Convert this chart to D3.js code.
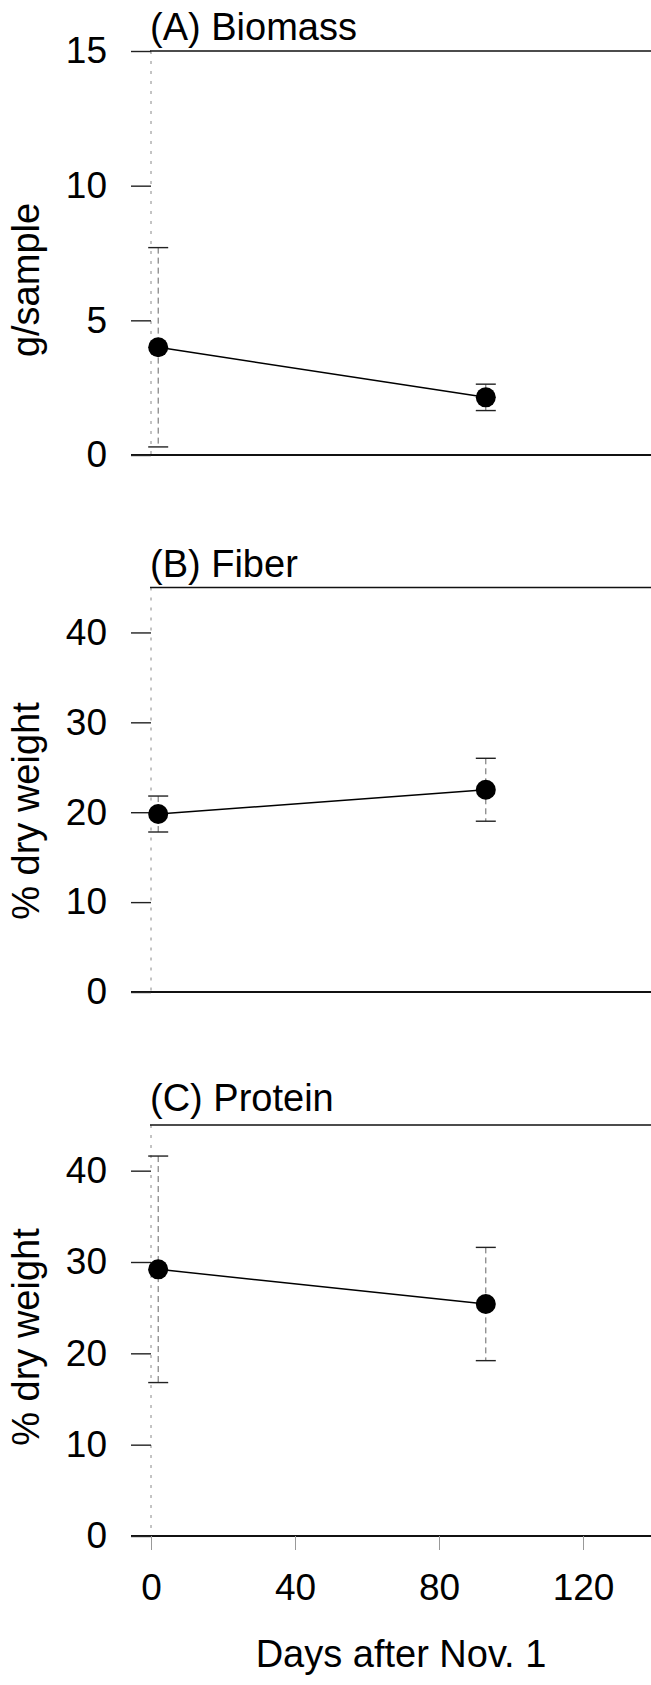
<!DOCTYPE html>
<html>
<head>
<meta charset="utf-8">
<script src="https://cdn.jsdelivr.net/npm/d3@7"></script>
<style>
  html, body { margin: 0; padding: 0; background: #fff; }
  svg { display: block; font-family: "Liberation Sans", Arial, Helvetica, sans-serif; }
</style>
</head>
<body>
<div class="canvas"></div>
<script>
// data
const days = [2, 93];
const biomass = [4.0, 2.14];
const biomassErr = [3.7, 0.49];
const fiber = [19.8, 22.5];
const fiberErr = [2.0, 3.5];
const protein = [29.2, 25.4];
const proteinErr = [12.4, 6.2];

const panelTitles = ['(A) Biomass', '(B) Fiber', '(C) Protein'];
const yTitles = ['g/sample', '% dry weight', '% dry weight'];
const yMax = [15, 45, 45];
const yTicksA = [0, 5, 10, 15];
const yTicksBC = [0, 10, 20, 30, 40];
const xTicks = [0, 40, 80, 120];
const xTitle = 'Days after Nov. 1';

const WIDTH = 651, HEIGHT = 1685;

const panels = [
  { title: panelTitles[0], yTitle: yTitles[0], values: biomass, errs: biomassErr, max: yMax[0], ticks: yTicksA,
    range: [455, 51], titleY: 40, yTitleY: 280 },
  { title: panelTitles[1], yTitle: yTitles[1], values: fiber, errs: fiberErr, max: yMax[1], ticks: yTicksBC,
    range: [992, 587.5], titleY: 576.5, yTitleY: 811 },
  { title: panelTitles[2], yTitle: yTitles[2], values: protein, errs: proteinErr, max: yMax[2], ticks: yTicksBC,
    range: [1536, 1125], titleY: 1111, yTitleY: 1337 }
];

const svg = d3.select('.canvas').append('svg')
  .attr('width', WIDTH)
  .attr('height', HEIGHT);

svg.append('rect').attr('width', WIDTH).attr('height', HEIGHT).attr('fill', '#fff');

//shared x scale (axis runs off the right edge)
const x = d3.scaleLinear().domain([0, 139]).range([151, 651.4]);

panels.forEach(function(p, i) {
  const y = d3.scaleLinear().domain([0, p.max]).range(p.range);
  const g = svg.append('g').attr('class', 'panel-' + i);

  //faint dotted y axis line
  g.append('line')
    .attr('x1', x(0)).attr('x2', x(0))
    .attr('y1', y(p.max)).attr('y2', y(0))
    .attr('stroke', '#888')
    .attr('stroke-width', 1)
    .attr('stroke-dasharray', '3,7');

  //top and bottom frame lines
  g.append('line')
    .attr('x1', x(0) - 1).attr('x2', WIDTH)
    .attr('y1', y(p.max)).attr('y2', y(p.max))
    .attr('stroke', '#111').attr('stroke-width', 1.6);
  g.append('line')
    .attr('x1', x(0) - 20).attr('x2', WIDTH)
    .attr('y1', y(0)).attr('y2', y(0))
    .attr('stroke', '#111').attr('stroke-width', 1.8);

  //y axis ticks + labels
  const yAxis = d3.axisLeft(y)
    .tickValues(p.ticks)
    .tickSize(20)
    .tickPadding(24)
    .tickFormat(d3.format('d'));
  const yAxisGroup = g.append('g')
    .attr('class', 'y-axis')
    .attr('transform', `translate(${x(0)}, 0)`)
    .call(yAxis);
  yAxisGroup.select('.domain').remove();
  yAxisGroup.selectAll('line').attr('stroke', '#222').attr('stroke-width', 1.4);
  yAxisGroup.selectAll('text')
    .attr('font-size', 37)
    .attr('font-family', '"Liberation Sans", Arial, sans-serif')
    .attr('fill', '#000');

  //panel title
  g.append('text')
    .attr('x', 150)
    .attr('y', p.titleY)
    .attr('font-size', 38)
    .attr('fill', '#000')
    .text(p.title);

  //y axis title
  g.append('text')
    .attr('transform', `translate(39, ${p.yTitleY}) rotate(-90)`)
    .attr('text-anchor', 'middle')
    .attr('font-size', 38)
    .attr('fill', '#000')
    .text(p.yTitle);

  //error bars
  const pts = days.map(function(d, j) {
    return { day: d, v: p.values[j], e: p.errs[j] };
  });
  const bars = g.append('g').attr('class', 'errors');
  bars.selectAll('line.stem')
    .data(pts)
    .enter().append('line')
    .attr('class', 'stem')
    .attr('x1', d => x(d.day)).attr('x2', d => x(d.day))
    .attr('y1', d => y(d.v + d.e)).attr('y2', d => y(d.v - d.e))
    .attr('stroke', '#666')
    .attr('stroke-width', 1)
    .attr('stroke-dasharray', '6,4');
  bars.selectAll('line.cap-top')
    .data(pts)
    .enter().append('line')
    .attr('class', 'cap-top')
    .attr('x1', d => x(d.day) - 10).attr('x2', d => x(d.day) + 10)
    .attr('y1', d => y(d.v + d.e)).attr('y2', d => y(d.v + d.e))
    .attr('stroke', '#222').attr('stroke-width', 1.4);
  bars.selectAll('line.cap-bot')
    .data(pts)
    .enter().append('line')
    .attr('class', 'cap-bot')
    .attr('x1', d => x(d.day) - 10).attr('x2', d => x(d.day) + 10)
    .attr('y1', d => y(d.v - d.e)).attr('y2', d => y(d.v - d.e))
    .attr('stroke', '#222').attr('stroke-width', 1.4);

  //line path
  const line = d3.line()
    .x(d => x(d.day))
    .y(d => y(d.v));
  g.append('path')
    .datum(pts)
    .attr('d', line)
    .attr('fill', 'none')
    .attr('stroke', '#000')
    .attr('stroke-width', 1.5);

  //markers
  g.selectAll('circle')
    .data(pts)
    .enter().append('circle')
    .attr('cx', d => x(d.day))
    .attr('cy', d => y(d.v))
    .attr('r', 10)
    .attr('fill', '#000');

  //x axis on the bottom panel only
  if (i === panels.length - 1) {
    const xAxis = d3.axisBottom(x)
      .tickValues(xTicks)
      .tickSize(14)
      .tickPadding(24)
      .tickFormat(d3.format('d'));
    const xAxisGroup = g.append('g')
      .attr('class', 'x-axis')
      .attr('transform', `translate(0, ${y(0)})`)
      .call(xAxis);
    xAxisGroup.select('.domain').remove();
    xAxisGroup.selectAll('line').attr('stroke', '#999').attr('stroke-width', 1);
    xAxisGroup.selectAll('text')
      .attr('font-size', 37)
      .attr('font-family', '"Liberation Sans", Arial, sans-serif')
      .attr('fill', '#000');

    g.append('text')
      .attr('x', 401)
      .attr('y', 1667)
      .attr('text-anchor', 'middle')
      .attr('font-size', 38)
      .attr('fill', '#000')
      .text(xTitle);
  }
});
</script>
</body>
</html>
